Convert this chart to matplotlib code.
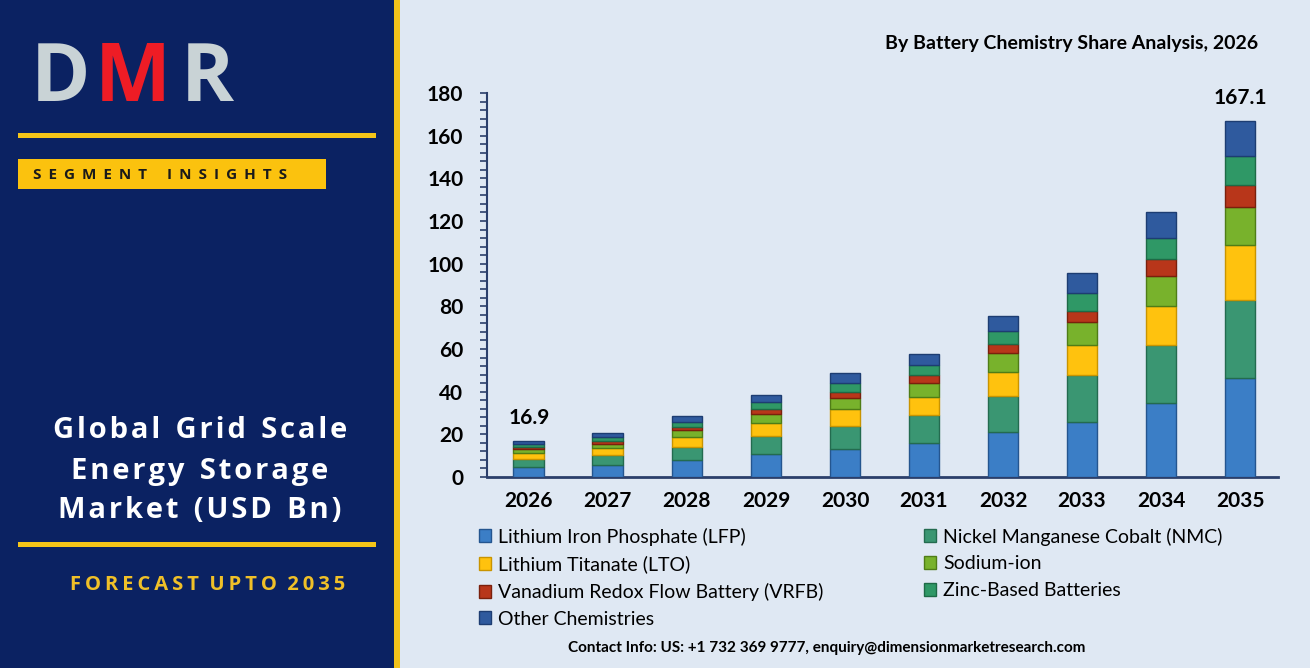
import numpy as np
import matplotlib
matplotlib.use('Agg')
import matplotlib.pyplot as plt
from matplotlib.patches import Rectangle

years = ['2026', '2027', '2028', '2029', '2030', '2031', '2032', '2033', '2034', '2035']
series_names = ['Lithium Iron Phosphate (LFP)', 'Nickel Manganese Cobalt (NMC)',
                'Lithium Titanate (LTO)', 'Sodium-ion',
                'Vanadium Redox Flow Battery (VRFB)', 'Zinc-Based Batteries',
                'Other Chemistries']
lfp = [4.6, 5.6, 7.8, 10.6, 13.1, 15.8, 21.1, 25.9, 34.5, 46.5]
nmc = [3.8, 4.6, 6.4, 8.7, 10.9, 13.3, 16.9, 21.9, 27.3, 36.4]
lto = [2.7, 3.2, 4.5, 6.0, 7.7, 8.3, 11.3, 14.1, 18.4, 25.8]
sodium = [1.8, 2.2, 3.1, 4.2, 5.2, 6.6, 8.9, 10.9, 14.1, 18.0]
vrfb = [1.1, 1.3, 1.8, 2.4, 3.1, 3.6, 4.2, 5.2, 7.8, 10.2]
zinc = [1.4, 1.7, 2.4, 3.1, 3.9, 5.0, 6.1, 8.2, 10.0, 13.6]
other = [1.5, 1.8, 2.6, 3.6, 5.0, 5.2, 7.0, 9.2, 12.2, 16.6]
labels_shown = {'2026': '16.9', '2035': '167.1'}

colors = ['#3b7ec6', '#3a9672', '#ffc20e', '#78b22c', '#b8361a', '#2f9866', '#2f5a9e']
edges = ['#24558f', '#236b4f', '#c99400', '#4f7d16', '#7a200c', '#1e6a46', '#1d3d72']

W, H = 1310, 668
fig = plt.figure(figsize=(W / 100, H / 100), dpi=100)
fig.patch.set_facecolor('#dfe8f3')


def fx(x):
    return x / W


def fy(y):
    return 1 - y / H


def spaced(s, sep='\u200a', gap='  '):
    return gap.join(sep.join(w) for w in s.split(' '))


# left panel
fig.patches.append(Rectangle((0, 0), fx(394), 1, transform=fig.transFigure,
                             facecolor='#0b2262', edgecolor='none', zorder=0))
fig.patches.append(Rectangle((fx(394), 0), fx(6), 1, transform=fig.transFigure,
                             facecolor='#f2c21b', edgecolor='none', zorder=0))
fig.patches.append(Rectangle((fx(18), fy(138)), fx(358), 5 / H, transform=fig.transFigure,
                             facecolor='#f5c518', edgecolor='none'))
fig.patches.append(Rectangle((fx(18), fy(189)), fx(308), 30 / H, transform=fig.transFigure,
                             facecolor='#fbc20e', edgecolor='none'))
fig.patches.append(Rectangle((fx(18), fy(547)), fx(358), 5 / H, transform=fig.transFigure,
                             facecolor='#f5c518', edgecolor='none'))

lf = ['Open Sans', 'DejaVu Sans']
fig.text(fx(60), fy(80), 'D', color='#c9d3d6', fontsize=58, fontweight='bold',
         ha='center', va='center', family=lf)
fig.text(fx(133), fy(80), 'M', color='#ee1c25', fontsize=58, fontweight='bold',
         ha='center', va='center', family=lf)
fig.text(fx(207), fy(80), 'R', color='#c9d3d6', fontsize=58, fontweight='bold',
         ha='center', va='center', family=lf)

fig.text(fx(33), fy(175), spaced('SEGMENT INSIGHTS', sep=' \u2009', gap='     '),
         color='#1a1a1a', fontsize=11, fontweight='bold', ha='left', va='center', family=lf)

for txt, yy in [('Global Grid Scale', 431), ('Energy Storage', 471), ('Market (USD Bn)', 511)]:
    fig.text(fx(200), fy(yy), spaced(txt), color='white', fontsize=21,
             fontweight='bold', ha='center', va='center', family=lf)

fig.text(fx(208), fy(585), spaced('FORECAST UPTO 2035', sep='\u2009'), color='#f0c028',
         fontsize=14.5, fontweight='bold', ha='center', va='center', family=lf)

# chart
cf = ['Lato', 'DejaVu Sans']
fig.text(fx(1258), fy(43), 'By Battery Chemistry Share Analysis, 2026', color='black',
         fontsize=14, fontweight='bold', ha='right', va='center', family=cf)

ax = fig.add_axes([fx(487), fy(477), fx(1278 - 487), (477 - 93) / H])
ax.set_facecolor('none')
x = np.arange(len(years))
data = [lfp, nmc, lto, sodium, vrfb, zinc, other]
bottom = np.zeros(len(years))
handles = []
for vals, c, e, name in zip(data, colors, edges, series_names):
    b = ax.bar(x, vals, 0.39, bottom=bottom, color=c, edgecolor=e, linewidth=1.0,
               label=name, zorder=3)
    handles.append(b)
    bottom += np.array(vals)

for i, yr in enumerate(years):
    if yr in labels_shown:
        ax.text(x[i], bottom[i] + 6, labels_shown[yr], ha='center', va='bottom',
                fontsize=15, fontweight='bold', family=cf)

ax.set_xlim(-0.53, 9.48)
ax.set_ylim(0, 180)
ax.set_yticks(np.arange(0, 181, 20))
ax.set_yticks(np.arange(0, 181, 4), minor=True)
ax.set_xticks(x)
ax.set_xticklabels(years)
for lab in ax.get_xticklabels() + ax.get_yticklabels():
    lab.set_fontweight('bold')
    lab.set_fontsize(15)
    lab.set_family(cf)
ax.tick_params(axis='y', which='both', direction='out', color='#2b3f6b', length=5, width=1.2, pad=12)
ax.tick_params(axis='x', length=0, pad=10)
for s in ['top', 'right']:
    ax.spines[s].set_visible(False)
ax.spines['left'].set_color('#2b3f6b')
ax.spines['left'].set_linewidth(1.5)
ax.spines['bottom'].set_color('#2b3f6b')
ax.spines['bottom'].set_linewidth(2)

order = [0, 2, 4, 6, 1, 3, 5]
leg = fig.legend([handles[i] for i in order], [series_names[i] for i in order],
                 ncol=2, loc='upper left', bbox_to_anchor=(fx(463), fy(512)),
                 frameon=False, handlelength=0.65, handleheight=0.65,
                 handletextpad=0.35, labelspacing=0.5, columnspacing=5.15,
                 borderpad=0.3, prop={'family': cf, 'size': 14})

fig.text(fx(827), fy(648), 'Contact Info: US: +1 732 369 9777, enquiry@dimensionmarketresearch.com',
         fontsize=11, fontweight='bold', ha='center', va='center', family=cf)

fig.savefig('out.png', dpi=100, facecolor=fig.get_facecolor())
